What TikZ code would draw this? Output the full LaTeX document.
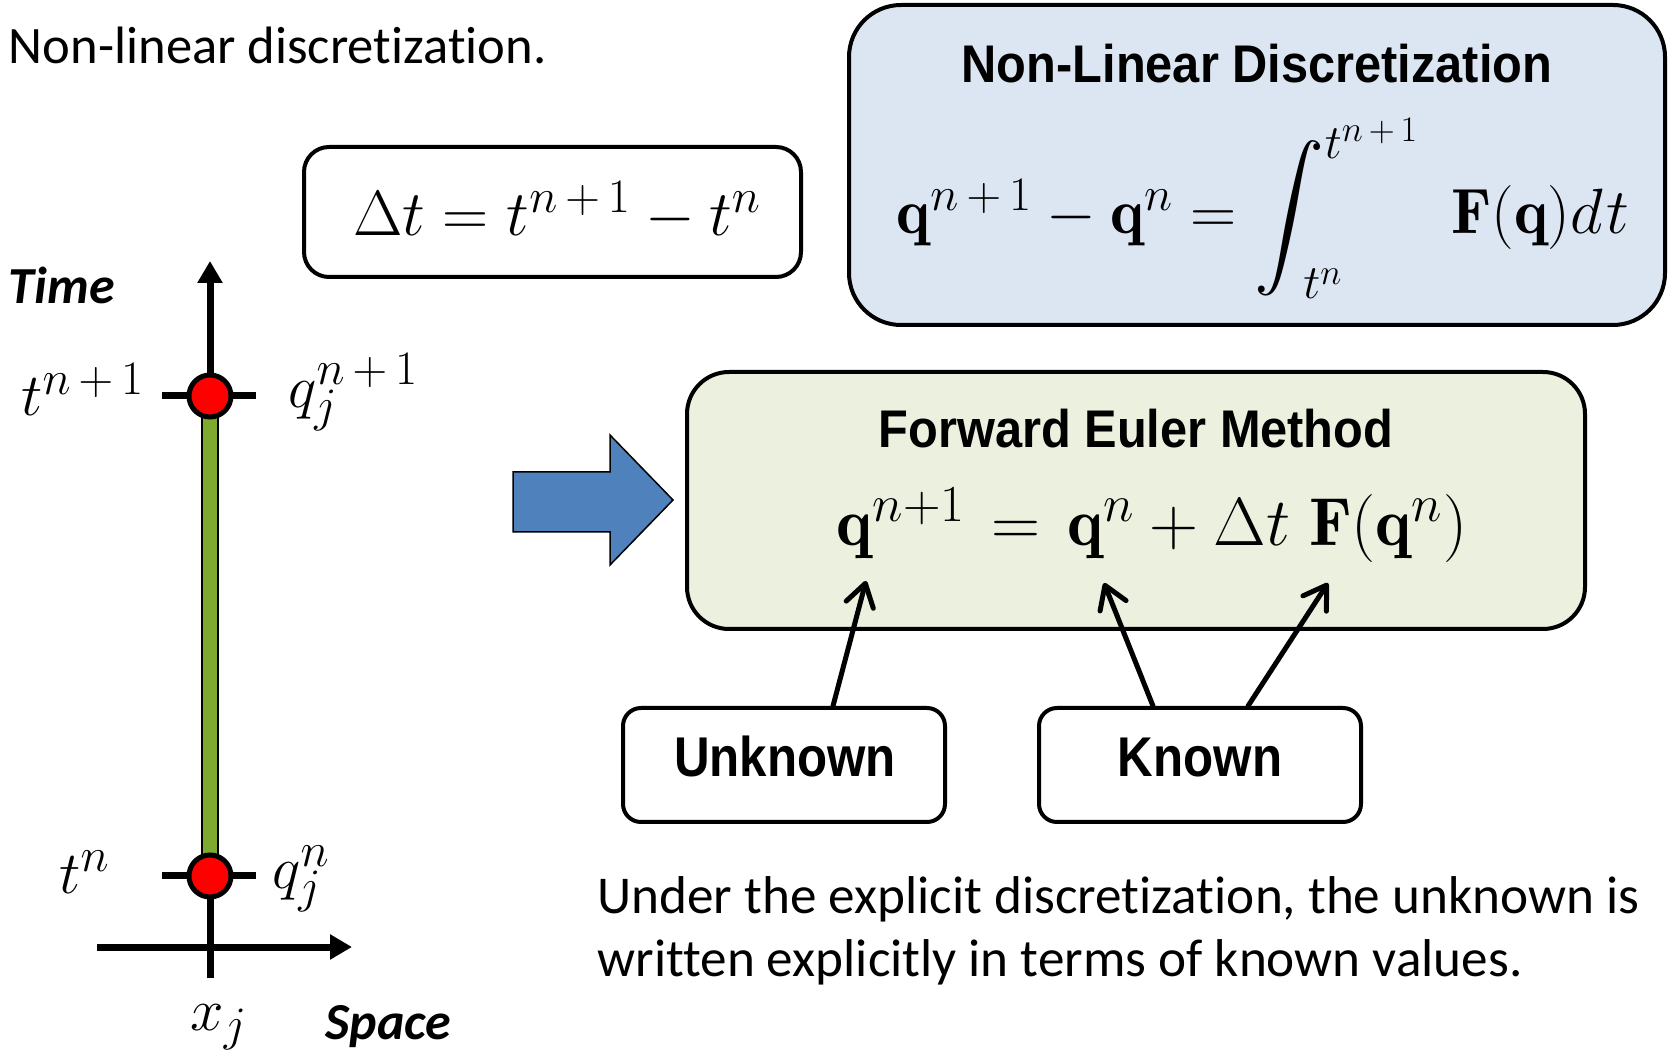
\RequirePackage{fix-cm}
\documentclass[tikz,border=0pt]{standalone}
\usepackage{fontspec}
\newfontfamily\carl{Carlito}[Ligatures=NoCommon]
\newfontfamily\arl{Liberation Sans}
\usetikzlibrary{arrows.meta,calc}
\DeclareMathSizes{30}{30}{24}{18}
\DeclareMathSizes{32}{32}{24}{18}
\DeclareMathSizes{34}{34}{26}{19}
\definecolor{bluebox}{HTML}{DCE6F2}
\definecolor{greenbox}{HTML}{EBF1DE}
\definecolor{arrowblue}{HTML}{4F81BD}
\definecolor{bargreen}{HTML}{7DAA2F}
\newcommand\mth{\fontsize{30}{36}\selectfont}
\newcommand\mthb{\fontsize{32}{38}\selectfont}
\newcommand\mthc{\fontsize{34}{40}\selectfont}
\newcommand\npo{n\mkern3mu+\mkern3mu1}
\newcommand\bigintegral{\mathop{\vcenter{\hbox{\scalebox{3.5}{\fontsize{10}{12}\selectfont$\displaystyle\int$}}}}\nolimits}
\tikzset{
  rbox/.style={draw=black, line width=2pt, inner sep=0pt},
  titlef/.style={font=\arl\bfseries\fontsize{26.5}{30}\selectfont, anchor=base, inner sep=0pt},
  titleg/.style={font=\arl\bfseries\fontsize{28}{32}\selectfont, anchor=base, inner sep=0pt},
  bodyf/.style={font=\carl\fontsize{26.3}{31.5}\selectfont, anchor=base west, inner sep=0pt, align=left},
  bodyg/.style={font=\carl\fontsize{26.6}{31.5}\selectfont, anchor=base west, inner sep=0pt, align=left},
  axlbl/.style={font=\carl\bfseries\itshape\fontsize{26}{30}\selectfont, anchor=base west, inner sep=0pt},
  mathbase/.style={font=\mthb, anchor=base, inner sep=0pt},
  mathlbl/.style={font=\mth, anchor=base west, inner sep=0pt},
  conn/.style={line width=2.5pt, line cap=round, -{Straight Barb[round, length=11pt, width=14pt]}},
  axisl/.style={line width=3.5pt, -{Triangle[length=11pt, width=12pt]}},
  dotn/.style={circle, draw=black, fill=red, line width=2.5pt, minimum size=21pt, inner sep=0pt}
}
\begin{document}
\begin{tikzpicture}[x=0.5pt, y=-0.5pt]
\useasboundingbox (0,0) rectangle (1671,1052);

% header text
\node[bodyf] (hdr) at (8.5,64) {Non-linear discretization.};

% boxes
\node[rbox, fill=bluebox, rounded corners=26pt, minimum width=408pt, minimum height=160pt] (nld) at (1257,165) {};
\node[rbox, fill=white, rounded corners=12.5pt, minimum width=248.5pt, minimum height=65pt] (dtb) at (552.5,212) {};
\node[rbox, fill=greenbox, rounded corners=21pt, minimum width=449pt, minimum height=128.5pt] (fem) at (1136,500.5) {};
\node[rbox, fill=white, rounded corners=9pt, minimum width=161pt, minimum height=57pt] (unk) at (784,765) {};
\node[rbox, fill=white, rounded corners=9pt, minimum width=161pt, minimum height=57pt] (kno) at (1200,765) {};

% box contents
\node[titlef] (nldt) at (1257,83) {\scalebox{0.92}[1]{Non-Linear Discretization}};
\node[mathbase] (nldf) at (1263,234) {$\mathbf{q}^{\npo}-\mathbf{q}^{n}=\bigintegral^{t^{\npo}}_{\mkern-8mu t^n}\mkern6mu\mathbf{F}(\mathbf{q})d\mkern1mu t$};
\node[mathbase] (dtf) at (557,236) {$\Delta t = t^{\npo} - t^{n}$};
\node[titlef] (femt) at (1136,448) {\scalebox{0.92}[1]{Forward Euler Method}};
\node[mathbase, font=\mthc] (femf) at (1152,546) {$\mathbf{q}^{n+1}\mkern2mu=\mkern2mu\mathbf{q}^{n}+\Delta t\mkern5mu\mathbf{F}(\mathbf{q}^{n})$};
\node[titleg] (unkt) at (785,777) {\scalebox{0.88}[1]{Unknown}};
\node[titleg] (knot) at (1200,777) {\scalebox{0.88}[1]{Known}};

% block arrow
\draw[fill=arrowblue, line width=0.75pt, line join=miter] (513,472) -- (610,472) -- (610,435) -- (673,500) -- (610,565) -- (610,532) -- (513,532) -- cycle;

% connectors
\coordinate (aq1) at (866,581);
\coordinate (aq2) at (1104,583);
\coordinate (aq3) at (1328,583);
\draw[conn] ($(unk.north)+(49,0)$) -- (aq1);
\draw[conn] ($(kno.north)+(-47,0)$) -- (aq2);
\draw[conn] ($(kno.north)+(48,0)$) -- (aq3);

% bottom text
\node[bodyg] (expl) at (597,976) {Under the explicit discretization, the unknown is\\written explicitly in terms of known values.};

% left diagram
\coordinate (vax0) at (210,978);
\coordinate (vax1) at (210,261);
\coordinate (hax0) at (97,947);
\coordinate (hax1) at (352,947);
\draw[axisl] (vax0) -- (vax1);
\draw[axisl] (hax0) -- (hax1);
\draw[line width=3.5pt] (162,396) -- (256,396);
\draw[line width=3.5pt] (162,876) -- (256,876);
\draw[fill=bargreen, line width=1pt] (202,396) rectangle (218,876);
\node[dotn] (dtop) at (210,396) {};
\node[dotn] (dbot) at (210,876) {};

\node[axlbl] (timel) at (8.5,304) {Time};
\node[axlbl] (spacel) at (325,1039) {Space};
\node[mathlbl] (ltn1) at (21,416) {$t^{\npo}$};
\node[mathlbl] (ltn) at (59,893) {$t^{n}$};
\node[mathlbl] (lqn1) at (288,408) {$q_j^{\npo}$};
\node[mathlbl] (lqn) at (272,888) {$q_j^{n}$};
\node[mathlbl] (lxj) at (190,1030) {$x_j$};
\end{tikzpicture}
\end{document}
